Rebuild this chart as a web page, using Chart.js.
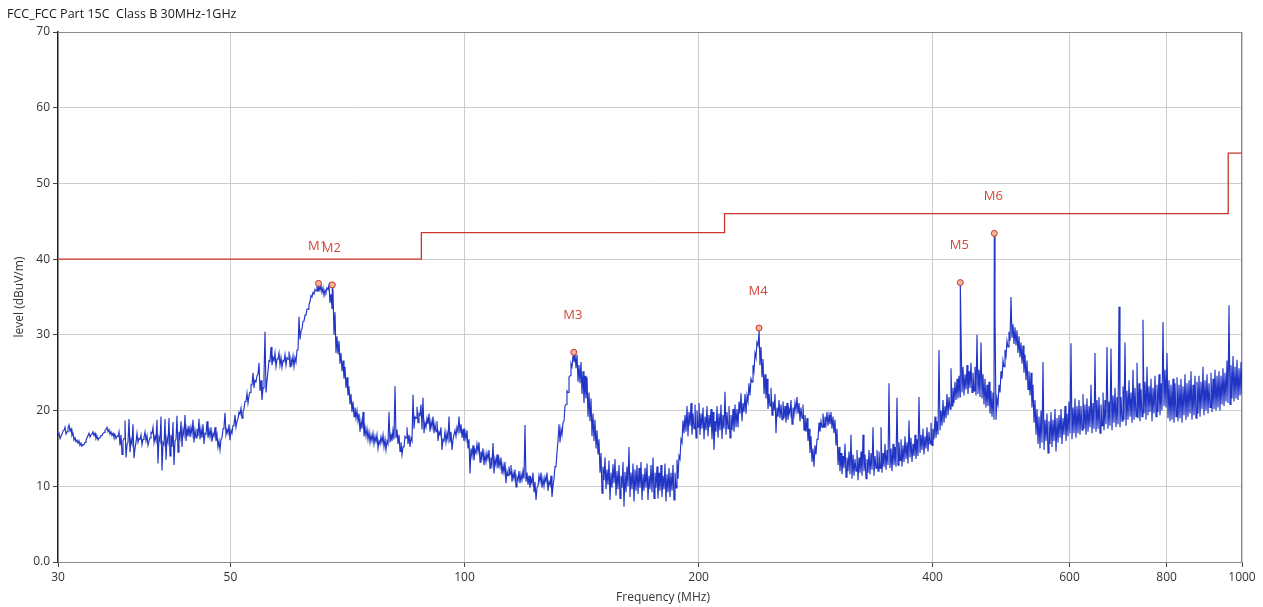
<!DOCTYPE html>
<html>
<head>
<meta charset="utf-8">
<script src="https://cdn.jsdelivr.net/npm/chart.js@4.4.1/dist/chart.umd.min.js"></script>
<style>
  html, body { margin: 0; padding: 0; background: #fff; }
  #wrap { width: 1263px; height: 607px; }
</style>
</head>
<body>
<div id="wrap"><canvas id="c" width="1263" height="607"></canvas></div>
<script>
// Radiated emission scan, FCC Part 15C Class B, 30 MHz – 1 GHz
const titleText = 'FCC_FCC Part 15C  Class B 30MHz-1GHz';
const xTitle = 'Frequency (MHz)';
const yTitle = 'level (dBuV/m)';

const sweepStartMHz = 30;
const sweepStopMHz = 1000;

const xTickValues = [30, 50, 100, 200, 400, 600, 800, 1000];
const yTickValues = [0, 10, 20, 30, 40, 50, 60, 70];
const yTickLabels = ['0.0', '10', '20', '30', '40', '50', '60', '70'];

// Class B limit (dBuV/m), each level holds until the next frequency
const limitFreq = [30, 88, 216, 960, 1000];
const limitLevel = [40, 43.5, 46, 54, 54];

// Peak markers
const markerNames = ['M1', 'M2', 'M3', 'M4', 'M5', 'M6'];
const markerFreq = [64.9, 67.6, 138.2, 239.2, 434.2, 480.2];
const markerLevel = [36.8, 36.6, 27.7, 30.9, 36.9, 43.4];

// Peak-detector display: highest and lowest level (dBuV/m) in each
// log-spaced frequency bin from 30 to 1000 MHz
const binMax = [
  17.0, 16.6, 17.3, 17.8, 17.2, 18.1, 17.6, 17.0, 16.4, 16.1,
  16.0, 15.7, 15.5, 15.8, 16.4, 17.0, 16.8, 17.2, 17.0, 16.6,
  16.4, 16.7, 17.0, 17.4, 17.8, 17.5, 17.2, 17.0, 16.8, 16.6,
  17.2, 16.8, 16.0, 18.7, 15.5, 18.9, 16.2, 18.2, 15.0, 17.0,
  16.3, 16.8, 16.2, 17.2, 16.7, 16.0, 17.1, 17.8, 16.6, 18.8,
  16.5, 19.2, 15.8, 18.9, 16.4, 19.0, 16.8, 18.5, 16.0, 19.3,
  17.2, 18.6, 17.5, 19.4, 17.6, 18.0, 17.8, 18.8, 17.4, 17.6,
  18.9, 17.6, 18.2, 17.0, 18.6, 17.4, 17.8, 17.0, 17.8, 16.8,
  16.0, 16.2, 17.6, 19.7, 17.5, 18.2, 17.4, 18.0, 19.4, 18.6,
  19.8, 20.3, 19.9, 21.2, 22.3, 22.0, 23.4, 25.0, 24.0, 24.6,
  26.3, 24.0, 23.0, 30.4, 24.0, 26.6, 28.4, 27.0, 27.6, 26.8,
  27.6, 27.0, 26.6, 27.4, 27.0, 27.8, 26.8, 27.2, 27.0, 28.0,
  32.4, 30.5, 31.8, 32.6, 33.4, 34.0, 35.2, 35.6, 36.0, 36.4,
  36.4, 36.5, 36.2, 35.9, 36.2, 36.6, 35.4, 35.8, 33.0, 29.8,
  29.2, 27.6, 26.6, 25.8, 24.4, 23.2, 22.2, 21.2, 20.4, 20.0,
  19.6, 18.6, 19.8, 17.8, 17.6, 17.2, 16.8, 17.0, 16.6, 16.8,
  16.0, 16.5, 16.8, 16.2, 16.0, 19.8, 16.8, 17.4, 23.2, 17.5,
  16.8, 15.8, 15.2, 16.6, 17.8, 16.8, 16.4, 22.1, 19.2, 20.5,
  19.6, 20.8, 21.7, 18.4, 19.0, 19.6, 18.6, 19.2, 18.2, 18.6,
  17.2, 17.8, 16.2, 17.2, 17.0, 19.2, 17.2, 16.2, 17.4, 17.8,
  19.2, 18.2, 17.6, 17.2, 17.4, 16.2, 15.0, 15.4, 14.8, 15.6,
  15.8, 14.6, 15.0, 14.2, 14.4, 14.8, 13.8, 15.7, 13.6, 14.2,
  13.6, 13.8, 12.8, 13.2, 12.0, 12.6, 12.8, 11.8, 12.2, 11.2,
  12.0, 11.6, 12.0, 18.1, 11.8, 11.4, 11.0, 11.8, 10.6, 9.8,
  11.4, 11.8, 11.0, 11.2, 11.8, 10.6, 11.4, 10.0, 12.6, 14.5,
  18.2, 17.6, 18.4, 20.6, 22.6, 24.4, 26.2, 27.2, 27.5, 27.4,
  26.0, 26.4, 25.2, 24.6, 24.4, 22.4, 21.6, 19.6, 18.8, 17.4,
  16.2, 14.4, 12.6, 13.8, 12.2, 13.4, 11.8, 12.9, 13.6, 12.0,
  12.8, 11.4, 13.2, 11.9, 12.6, 15.2, 11.8, 13.0, 12.2, 12.8,
  12.4, 13.2, 11.6, 12.4, 13.0, 11.4, 12.8, 13.8, 11.8, 12.6,
  11.8, 12.8, 11.4, 13.0, 11.6, 12.4, 11.8, 12.8, 11.8, 13.5,
  14.0, 16.2, 18.7, 19.4, 20.6, 19.8, 21.0, 19.6, 20.8, 20.0,
  21.0, 19.6, 20.4, 19.2, 20.6, 19.4, 20.2, 19.8, 18.6, 20.6,
  19.6, 20.8, 19.4, 22.5, 19.8, 20.6, 19.4, 20.2, 20.8, 20.2,
  21.2, 22.3, 21.0, 22.2, 22.0, 23.6, 24.2, 26.0, 27.6, 29.0,
  30.4, 28.4, 26.8, 24.8, 24.2, 22.2, 23.0, 21.2, 22.2, 20.4,
  21.4, 20.8, 21.2, 20.6, 21.0, 20.2, 21.4, 20.4, 21.0, 21.8,
  21.0, 20.4, 20.8, 19.4, 19.0, 17.6, 16.6, 15.0, 15.4, 16.2,
  18.4, 18.6, 19.6, 19.2, 19.8, 19.4, 19.8, 19.2, 18.8, 17.6,
  15.2, 14.4, 14.0, 15.6, 13.8, 14.6, 16.8, 14.2, 13.6, 14.8,
  13.8, 14.6, 16.8, 14.2, 13.6, 14.8, 14.4, 17.8, 14.0, 14.8,
  14.6, 17.8, 14.4, 15.6, 14.8, 23.6, 15.0, 15.6, 15.2, 21.7,
  15.8, 16.2, 15.4, 16.6, 15.8, 18.7, 16.4, 15.6, 16.8, 16.2,
  21.8, 16.8, 17.6, 16.6, 17.8, 17.2, 18.4, 17.6, 19.2, 18.6,
  28.0, 20.0, 21.4, 20.6, 22.2, 21.8, 25.6, 23.0, 23.8, 24.2,
  24.6, 30.4, 25.8, 24.8, 26.0, 25.2, 26.3, 25.0, 25.8, 30.0,
  25.4, 29.0, 24.8, 24.2, 23.4, 23.8, 22.6, 22.4, 32.9, 21.6,
  23.4, 25.2, 26.6, 28.0, 29.2, 30.4, 35.0, 31.4, 31.0, 30.6,
  29.8, 29.0, 28.6, 27.4, 26.6, 25.2, 25.0, 23.4, 21.4, 20.2,
  19.2, 20.0, 26.4, 18.8, 19.6, 18.6, 19.8, 18.8, 20.2, 19.0,
  19.4, 20.2, 19.0, 20.6, 19.6, 21.2, 28.9, 20.4, 21.6, 20.6,
  21.4, 20.6, 22.2, 20.8, 21.6, 20.6, 23.4, 21.0, 27.6, 21.4,
  21.8, 20.8, 22.4, 21.4, 28.4, 21.2, 28.2, 22.0, 23.0, 21.8,
  33.7, 21.8, 23.2, 29.0, 22.6, 24.0, 22.4, 25.4, 23.0, 26.3,
  23.6, 22.8, 32.0, 23.8, 25.8, 23.2, 24.2, 23.0, 24.6, 23.4,
  24.8, 23.6, 31.7, 25.4, 27.6, 24.0, 23.4, 24.2, 23.6, 24.4,
  23.4, 24.2, 23.2, 24.8, 23.6, 24.0, 25.2, 23.4, 24.6, 23.8,
  24.6, 23.8, 25.8, 24.0, 24.8, 23.6, 25.0, 24.2, 25.4, 24.6,
  25.2, 24.6, 25.6, 25.0, 26.6, 33.9, 26.0, 27.2, 25.8, 26.7,
  25.6, 26.4, 25.2
];
const binMin = [
  16.7, 16.3, 16.9, 17.4, 16.9, 17.7, 17.3, 16.7, 16.1, 15.9,
  15.7, 15.4, 15.3, 15.5, 16.1, 16.7, 16.5, 16.9, 16.7, 16.3,
  16.1, 16.4, 16.7, 17.1, 17.5, 17.2, 16.9, 16.7, 16.5, 16.3,
  16.6, 15.4, 14.2, 16.3, 13.8, 15.8, 14.5, 15.6, 13.7, 15.8,
  15.8, 16.2, 15.5, 16.5, 16.0, 15.4, 16.4, 17.0, 15.8, 16.0,
  13.0, 16.0, 12.1, 15.5, 13.5, 15.8, 14.0, 15.2, 12.8, 16.2,
  14.5, 16.4, 15.2, 16.8, 16.0, 16.6, 16.5, 16.9, 15.8, 16.4,
  16.6, 16.2, 16.4, 15.6, 16.9, 16.4, 16.5, 15.9, 16.6, 16.0,
  15.2, 14.8, 16.4, 17.8, 16.8, 17.0, 16.1, 17.0, 18.2, 17.8,
  18.9, 19.5, 19.0, 20.2, 21.2, 21.0, 22.4, 23.4, 23.0, 23.8,
  24.8, 22.6, 21.4, 24.5, 22.4, 25.2, 26.5, 26.0, 26.6, 25.8,
  26.8, 26.0, 25.7, 26.5, 26.0, 26.8, 25.8, 26.2, 25.8, 26.4,
  28.0, 29.4, 30.8, 31.8, 32.6, 33.4, 34.4, 35.0, 35.4, 35.8,
  35.8, 35.9, 35.6, 35.2, 35.6, 36.0, 34.2, 33.5, 30.0, 27.6,
  27.4, 26.2, 25.2, 24.2, 23.0, 22.0, 20.8, 19.8, 19.2, 19.0,
  18.6, 17.2, 17.6, 16.6, 16.6, 16.2, 15.8, 16.0, 15.6, 15.9,
  15.0, 15.6, 15.8, 15.2, 14.8, 15.6, 15.8, 16.0, 16.2, 16.4,
  15.6, 14.6, 14.2, 15.2, 16.4, 15.6, 15.2, 16.0, 17.6, 19.0,
  18.4, 19.4, 17.5, 17.0, 17.8, 18.2, 17.2, 17.8, 17.0, 17.2,
  16.0, 16.8, 14.8, 16.0, 15.8, 16.2, 15.8, 14.8, 16.2, 16.6,
  17.2, 17.0, 16.4, 16.0, 16.2, 15.0, 11.7, 14.0, 13.4, 14.4,
  14.6, 13.2, 13.8, 12.8, 13.2, 13.6, 12.4, 13.0, 11.7, 12.8,
  12.4, 12.6, 11.6, 11.8, 10.4, 11.4, 11.6, 10.6, 11.0, 9.9,
  10.8, 10.4, 10.8, 11.0, 10.6, 10.2, 9.8, 10.4, 9.2, 8.2,
  10.0, 10.6, 9.8, 10.0, 10.6, 9.4, 10.2, 8.6, 11.0, 12.6,
  16.0, 15.8, 16.8, 18.6, 20.8, 22.4, 24.6, 25.8, 26.4, 25.6,
  23.8, 23.6, 22.2, 21.0, 21.6, 19.2, 18.6, 16.6, 16.0, 15.0,
  14.2, 11.8, 9.1, 10.8, 9.6, 10.2, 8.2, 9.8, 10.4, 8.8,
  9.6, 8.4, 9.8, 7.3, 9.2, 10.0, 8.6, 9.6, 8.0, 9.4,
  9.0, 9.8, 8.2, 9.4, 9.8, 8.2, 9.6, 9.2, 8.4, 9.8,
  8.4, 9.4, 8.6, 9.6, 8.0, 9.2, 8.6, 9.4, 8.2, 9.8,
  11.0, 13.6, 15.8, 17.0, 17.2, 16.6, 18.0, 16.8, 17.6, 16.4,
  17.8, 16.8, 17.6, 16.2, 17.4, 16.6, 17.8, 16.2, 14.8, 17.2,
  16.4, 17.4, 16.2, 17.6, 16.8, 17.6, 16.4, 17.4, 17.2, 17.8,
  17.8, 19.6, 18.6, 19.8, 19.6, 21.2, 22.0, 23.8, 25.2, 27.0,
  28.6, 26.0, 24.4, 22.2, 21.6, 20.2, 20.6, 19.4, 20.0, 17.0,
  19.2, 19.0, 18.8, 19.0, 18.4, 18.8, 19.6, 18.2, 19.4, 20.0,
  19.6, 18.6, 19.0, 17.4, 17.2, 16.0, 14.4, 13.2, 12.6, 14.2,
  16.2, 17.2, 17.8, 17.8, 18.2, 18.0, 18.2, 17.6, 17.0, 15.4,
  12.8, 12.0, 11.6, 12.4, 11.2, 12.0, 11.6, 11.0, 11.4, 12.0,
  10.8, 11.8, 11.4, 12.0, 11.0, 11.8, 11.6, 12.2, 11.4, 12.4,
  12.0, 12.4, 11.8, 12.6, 12.2, 12.8, 12.4, 12.0, 12.8, 12.6,
  12.8, 13.4, 12.6, 13.2, 13.6, 13.0, 13.8, 13.2, 14.0, 13.6,
  14.0, 14.4, 14.8, 14.2, 15.0, 14.6, 15.6, 15.4, 16.2, 16.4,
  16.8, 17.4, 18.0, 18.4, 19.0, 19.4, 20.2, 20.6, 21.0, 21.4,
  21.6, 21.8, 22.4, 22.0, 22.8, 22.2, 23.0, 22.4, 22.6, 22.0,
  22.2, 21.8, 21.6, 20.8, 20.4, 20.6, 19.6, 19.2, 18.8, 18.8,
  20.8, 22.4, 24.2, 25.8, 27.2, 28.4, 29.2, 29.6, 28.8, 28.6,
  27.6, 27.0, 26.2, 25.0, 24.0, 22.8, 22.0, 20.4, 18.4, 16.8,
  15.6, 15.0, 15.8, 14.8, 16.0, 14.4, 15.6, 15.2, 16.0, 14.6,
  15.8, 16.4, 15.6, 16.8, 16.0, 16.6, 17.0, 16.2, 17.0, 16.4,
  17.0, 16.8, 17.4, 17.6, 16.8, 17.2, 17.8, 17.0, 17.6, 17.2,
  17.6, 17.0, 18.0, 17.4, 18.2, 17.6, 18.0, 17.4, 18.4, 17.8,
  18.2, 17.8, 18.6, 18.8, 18.0, 18.8, 19.2, 18.4, 18.8, 19.2,
  19.0, 18.6, 19.2, 19.6, 18.8, 19.4, 19.8, 18.6, 19.6, 19.2,
  19.8, 19.4, 20.0, 20.6, 20.4, 19.0, 18.6, 18.8, 18.4, 19.2,
  18.6, 19.0, 18.4, 19.4, 18.8, 19.2, 19.6, 18.8, 19.4, 19.0,
  19.6, 19.2, 20.2, 19.4, 20.0, 19.6, 20.4, 19.8, 20.2, 20.0,
  20.4, 20.0, 20.8, 20.6, 21.2, 21.0, 20.8, 21.6, 21.2, 21.6,
  21.4, 22.0, 22.2
];

// Each bin is drawn as a low point followed by a high point half a bin later
const nBins = binMax.length;
const ratio = sweepStopMHz / sweepStartMHz;
const binFreq = k => Math.min(sweepStopMHz, sweepStartMHz * Math.pow(ratio, k / (2 * (nBins - 1))));
const tracePoints = [];
for (let i = 0; i < nBins; i++) {
  tracePoints.push({ x: binFreq(2 * i), y: binMin[i] });
  tracePoints.push({ x: binFreq(2 * i + 1), y: binMax[i] });
}
markerFreq.forEach((f, k) => tracePoints.push({ x: f, y: markerLevel[k] }));
tracePoints.sort((a, b) => a.x - b.x);

const limitPoints = limitFreq.map((f, i) => ({ x: f, y: limitLevel[i] }));
const markerPoints = markerFreq.map((f, i) => ({ x: f, y: markerLevel[i] }));

const FONT = "'Open Sans', 'Noto Sans', sans-serif";
const RED = '#c8372b';
const BLUE = '#2034c6';

const framePlugin = {
  id: 'frame',
  beforeDatasetsDraw(chart) {
    const { ctx, chartArea: a } = chart;
    ctx.save();
    ctx.strokeStyle = '#8c8c8c';
    ctx.lineWidth = 1;
    ctx.strokeRect(a.left + 0.5, a.top + 0.5, a.right - a.left - 1, a.bottom - a.top);
    ctx.restore();
  },
  afterDraw(chart) {
    const { ctx, scales } = chart;
    ctx.save();
    ctx.fillStyle = '#1a1a1a';
    ctx.font = '12.5px ' + FONT;
    ctx.textBaseline = 'middle';
    ctx.textAlign = 'left';
    ctx.fillText(titleText, 7, 14);
    ctx.fillStyle = '#333';
    ctx.font = '12px ' + FONT;
    ctx.textAlign = 'center';
    ctx.fillText(xTitle, 663, 598);
    // marker captions above each peak
    ctx.fillStyle = '#d4493c';
    ctx.font = '13px ' + FONT;
    markerNames.forEach((name, i) => {
      const px = scales.x.getPixelForValue(markerFreq[i]);
      const py = scales.y.getPixelForValue(markerLevel[i]);
      ctx.fillText(name, px - 1, py - 37);
    });
    ctx.restore();
  }
};

new Chart(document.getElementById('c'), {
  type: 'line',
  data: {
    datasets: [
      {
        label: 'Markers',
        data: markerPoints,
        showLine: false,
        pointStyle: 'circle',
        pointRadius: 3,
        pointBorderWidth: 1,
        pointBackgroundColor: '#f2b49c',
        pointBorderColor: RED,
        order: 0
      },
      {
        label: 'Marker cross',
        data: markerPoints,
        showLine: false,
        pointStyle: 'cross',
        pointRadius: 2.6,
        pointBorderWidth: 1,
        pointBorderColor: RED,
        order: 0
      },
      {
        label: 'Limit',
        data: limitPoints,
        borderColor: RED,
        borderWidth: 1.3,
        stepped: 'before',
        pointRadius: 0,
        fill: false,
        order: 1
      },
      {
        label: 'Level',
        data: tracePoints,
        borderColor: BLUE,
        borderWidth: 1.15,
        pointRadius: 0,
        tension: 0,
        fill: false,
        order: 2
      }
    ]
  },
  options: {
    responsive: false,
    animation: false,
    devicePixelRatio: 1,
    layout: { padding: { top: 32, right: 21, left: 0, bottom: 0 } },
    plugins: {
      legend: { display: false },
      tooltip: { enabled: false },
      title: { display: false }
    },
    scales: {
      x: {
        type: 'logarithmic',
        min: sweepStartMHz,
        max: sweepStopMHz,
        afterBuildTicks: s => { s.ticks = xTickValues.map(v => ({ value: v })); },
        afterFit: s => { s.height = 45; },
        ticks: {
          autoSkip: false,
          maxRotation: 0,
          padding: 3,
          color: '#333',
          font: { family: FONT, size: 12 },
          callback: v => String(v)
        },
        grid: { color: '#cdcdcd', lineWidth: 1, tickLength: 5, tickColor: '#444', drawTicks: true },
        border: { color: '#8c8c8c', width: 1 },
        title: { display: false }
      },
      y: {
        type: 'linear',
        min: 0,
        max: 70,
        afterBuildTicks: s => { s.ticks = yTickValues.map(v => ({ value: v })); },
        afterFit: s => { s.width = 58; },
        ticks: {
          padding: 3,
          color: '#333',
          font: { family: FONT, size: 12 },
          callback: v => yTickLabels[yTickValues.indexOf(v)]
        },
        grid: { color: '#cdcdcd', lineWidth: 1, tickLength: 5, tickColor: '#444', drawTicks: true },
        border: { color: '#222', width: 1.5 },
        title: {
          display: true,
          text: yTitle,
          color: '#333',
          font: { family: FONT, size: 12 },
          padding: { top: 12, bottom: 0 }
        }
      }
    }
  },
  plugins: [framePlugin]
});
</script>
</body>
</html>
